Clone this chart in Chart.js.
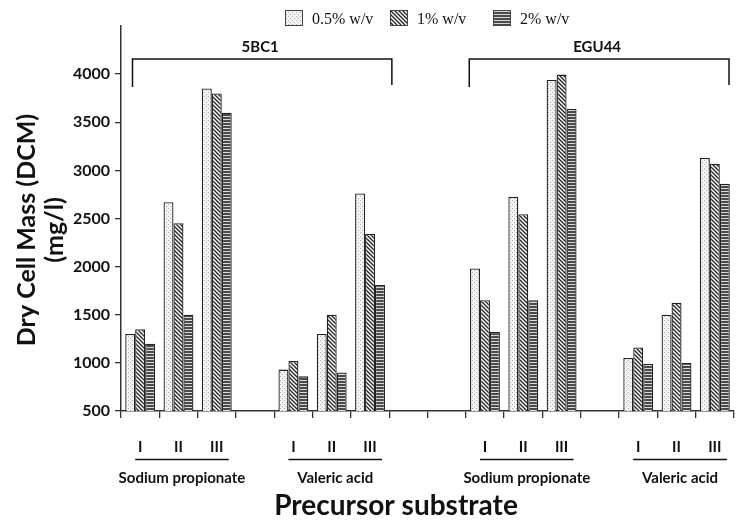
<!DOCTYPE html>
<html>
<head>
<meta charset="utf-8">
<script src="https://cdn.jsdelivr.net/npm/chart.js@4"></script>
<style>
    html, body { margin: 0; padding: 0; background: #fff; }
    #wrap { width: 742px; height: 523px; position: relative; }
</style>
</head>
<body>
<div id="wrap"><canvas id="chart" width="742" height="523"></canvas></div>
<script>
// 16 slots on the x axis: 5BC1 (SP I-III, gap, VA I-III), two gaps, EGU44 (SP I-III, gap, VA I-III)
let categories = ["5BC1 SP I", "5BC1 SP II", "5BC1 SP III", "", "5BC1 VA I", "5BC1 VA II", "5BC1 VA III", "", "",
    "EGU44 SP I", "EGU44 SP II", "EGU44 SP III", "", "EGU44 VA I", "EGU44 VA II", "EGU44 VA III"];
let seriesNames = ["0.5% w/v", "1% w/v", "2% w/v"];
let conc05 = [1300, 2670, 3850, null, 930, 1300, 2760, null, null, 1980, 2725, 3940, null, 1050, 1500, 3130];
let conc1 = [1350, 2450, 3800, null, 1020, 1500, 2340, null, null, 1650, 2545, 3995, null, 1160, 1625, 3070];
let conc2 = [1200, 1500, 3600, null, 860, 900, 1810, null, null, 1320, 1650, 3640, null, 990, 1000, 2860];
let yTicks = [500, 1000, 1500, 2000, 2500, 3000, 3500, 4000];
let romanLabels = ["I", "II", "III"];
let substrateGroups = [
    { name: "Sodium propionate", first: 0 },
    { name: "Valeric acid", first: 4 },
    { name: "Sodium propionate", first: 9 },
    { name: "Valeric acid", first: 13 }
];
let strains = [
    { name: "5BC1", from: -0.2, to: 6.57 },
    { name: "EGU44", from: 8.59, to: 15.37 }
];

function makePattern(kind) {
    let c = document.createElement("canvas");
    let g = c.getContext("2d");
    if (kind === "dots") {
        c.width = 4; c.height = 4;
        g.fillStyle = "#f4f4f4";
        g.fillRect(0, 0, 4, 4);
        g.fillStyle = "#aaa";
        g.fillRect(0, 0, 1, 1);
        g.fillRect(2, 2, 1, 1);
    } else if (kind === "diag") {
        c.width = 4; c.height = 4;
        g.fillStyle = "#fff";
        g.fillRect(0, 0, 4, 4);
        g.strokeStyle = "#222";
        g.lineWidth = 1.3;
        g.beginPath();
        g.moveTo(-1, -1); g.lineTo(5, 5);
        g.moveTo(-1, 3); g.lineTo(1, 5);
        g.moveTo(3, -1); g.lineTo(5, 1);
        g.stroke();
    } else {
        c.width = 3; c.height = 3;
        g.fillStyle = "#4a4a4a";
        g.fillRect(0, 0, 3, 3);
        g.fillStyle = "#d8d8d8";
        g.fillRect(0, 2, 3, 1);
    }
    return g.createPattern(c, "repeat");
}

let fills = [makePattern("dots"), makePattern("diag"), makePattern("horiz")];

let decorations = {
    id: "decorations",
    afterDraw(chart) {
        let ctx = chart.ctx;
        let x = chart.scales.x;
        let step = x.getPixelForValue(1) - x.getPixelForValue(0);
        let cx = i => x.getPixelForValue(0) + i * step;
        ctx.save();
        ctx.fillStyle = "#111";
        ctx.strokeStyle = "#111";
        ctx.textAlign = "center";
        ctx.textBaseline = "middle";

        // y axis title
        ctx.font = "bold 25px Lato";
        [["Dry Cell Mass (DCM)", 27], ["(mg/l)", 55]].forEach(t => {
            ctx.save();
            ctx.translate(t[1], 230);
            ctx.rotate(-Math.PI / 2);
            ctx.fillText(t[0], 0, 0);
            ctx.restore();
        });

        // strain brackets
        ctx.lineWidth = 1.5;
        strains.forEach(s => {
            let a = cx(s.from), b = cx(s.to);
            ctx.beginPath();
            ctx.moveTo(a, 87); ctx.lineTo(a, 59); ctx.lineTo(b, 59); ctx.lineTo(b, 85);
            ctx.stroke();
            ctx.font = "bold 15px Lato";
            ctx.fillText(s.name, (a + b) / 2 - 2, 47);
        });

        // roman numerals, underline and substrate names
        substrateGroups.forEach(gr => {
            ctx.font = "bold 15px Lato";
            romanLabels.forEach((r, k) => ctx.fillText(r, cx(gr.first + k), 447));
            let a = cx(gr.first) - 5, b = cx(gr.first + 2) + 12;
            ctx.lineWidth = 1.5;
            ctx.beginPath();
            ctx.moveTo(a, 459.5); ctx.lineTo(b, 459.5);
            ctx.stroke();
            ctx.fillText(gr.name, (a + b) / 2, 478);
        });

        // x axis title
        ctx.font = "bold 28px Lato";
        ctx.fillText("Precursor substrate", 396, 506);

        // legend
        let legendX = [285, 390, 493];
        ctx.textAlign = "left";
        ctx.font = "16px 'Liberation Serif'";
        seriesNames.forEach((n, i) => {
            ctx.fillStyle = fills[i];
            ctx.fillRect(legendX[i], 10, 17, 15);
            ctx.lineWidth = 1;
            ctx.strokeStyle = "#444";
            ctx.strokeRect(legendX[i] + 0.5, 10.5, 17, 15);
            ctx.fillStyle = "#111";
            ctx.fillText(n, legendX[i] + 27, 20);
        });
        ctx.restore();
    }
};

let data = {
    labels: categories,
    datasets: [conc05, conc1, conc2].map((vals, i) => {
        return {
            label: seriesNames[i],
            data: vals,
            backgroundColor: fills[i],
            borderColor: "#222",
            borderWidth: 1.3,
            categoryPercentage: 0.78,
            barPercentage: 1.0
        };
    })
};

let options = {
    responsive: false,
    animation: false,
    layout: { padding: { top: 26, right: 8, bottom: 0, left: 0 } },
    plugins: { legend: { display: false }, tooltip: { enabled: false } },
    scales: {
        x: {
            afterFit: s => { s.height = 112; },
            ticks: { display: false },
            grid: { drawOnChartArea: false, tickLength: 7, color: "#333", lineWidth: 1.3 },
            border: { color: "#333", width: 1.5 }
        },
        y: {
            min: 500,
            max: 4500,
            afterFit: s => { s.width = 121; },
            afterBuildTicks: s => { s.ticks = yTicks.concat([4500]).map(v => ({ value: v })); },
            ticks: {
                color: "#111",
                font: { family: "Lato", weight: "bold", size: 16 },
                padding: 5,
                callback: v => v === 4500 ? "" : v
            },
            grid: {
                drawOnChartArea: false,
                tickLength: 6,
                color: ctx => ctx.tick && ctx.tick.value === 4500 ? "rgba(0,0,0,0)" : "#333",
                lineWidth: 1.3
            },
            border: { color: "#333", width: 1.5 }
        }
    }
};

let chart = new Chart(document.getElementById("chart").getContext("2d"), {
    type: "bar",
    data: data,
    options: options,
    plugins: [decorations]
});
</script>
</body>
</html>
